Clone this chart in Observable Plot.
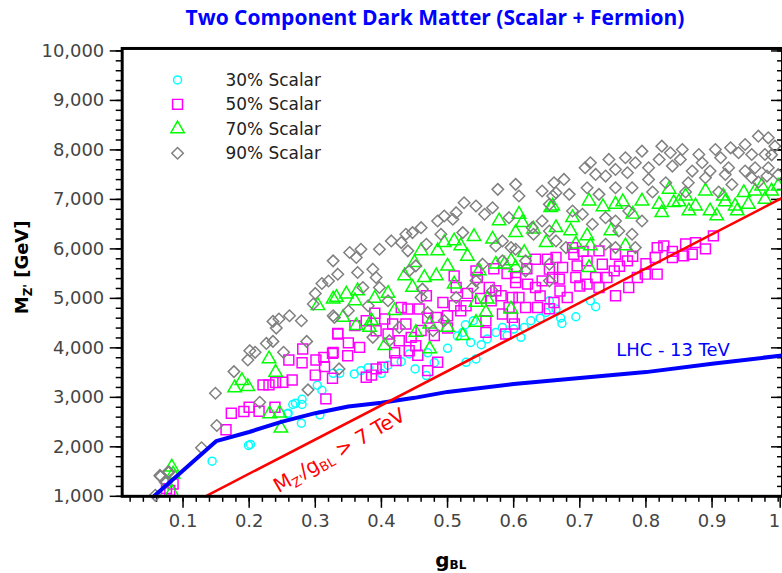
<!DOCTYPE html>
<html><head><meta charset="utf-8">
<script src="https://cdn.jsdelivr.net/npm/d3@7"></script>
<script src="https://cdn.jsdelivr.net/npm/@observablehq/plot@0.6"></script>
<style>
html,body{margin:0;padding:0;background:#fff;overflow:hidden;width:782px;height:573px;}
#title{height:36px;position:relative;font:bold 21px "Open Sans",sans-serif;color:#0000ff;}
#title span{position:absolute;left:435px;top:3px;transform:translateX(-50%);white-space:nowrap;}
#chart{width:782px;height:537px;overflow:hidden;}
</style></head><body>
<div id="title"><span>Two Component Dark Matter (Scalar + Fermion)</span></div>
<div id="chart"></div>
<script>
// ---- data: [g_BL, M_Z' (GeV)] ----
const scalar30 = [[0.144,1710],[0.199,2028],[0.202,2048],[0.258,2667],[0.259,2680],[0.270,2880],[0.266,2855],[0.280,2855],[0.279,2478],[0.280,2962],[0.303,3244],[0.307,2647],[0.310,3143],[0.327,3486],[0.337,3486],[0.359,3474],[0.369,3540],[0.38,3600],[0.40,3480],[0.41,3650],[0.442,3877],[0.451,3575],[0.468,3440],[0.48,3700],[0.523,4312],[0.527,4467],[0.528,3708],[0.535,4110],[0.539,4548],[0.543,3776],[0.551,4064],[0.56,4180],[0.573,4312],[0.583,4413],[0.59,4250],[0.611,4212],[0.616,4413],[0.626,4548],[0.64,4600],[0.649,4715],[0.654,4952],[0.664,4784],[0.671,4603],[0.673,4494],[0.694,4629],[0.716,4952],[0.724,4831],[0.50,3990],[0.47,3900],[0.43,3720],[0.515,4240],[0.60,4380]];
const scalar50 = [[0.075,1155],[0.080,1121],[0.085,1250],[0.165,2345],[0.173,2680],[0.192,2714],[0.239,2800],[0.221,3252],[0.230,3252],[0.251,3304],[0.260,3756],[0.281,3978],[0.301,3756],[0.313,3808],[0.314,3621],[0.326,3889],[0.326,3385],[0.316,2970],[0.334,4292],[0.334,4280],[0.327,3909],[0.349,3842],[0.367,4010],[0.377,4548],[0.392,4346],[0.405,4582],[0.417,4481],[0.430,4817],[0.440,4784],[0.437,4481],[0.445,4212],[0.452,4044],[0.422,3742],[0.427,4145],[0.392,3575],[0.377,3405],[0.385,3450],[0.470,3540],[0.485,3708],[0.457,4784],[0.468,5052],[0.483,4615],[0.493,4917],[0.510,5455],[0.513,5220],[0.510,4851],[0.520,4750],[0.528,4851],[0.543,5556],[0.545,5421],[0.563,5220],[0.573,5153],[0.581,5052],[0.566,4952],[0.558,4548],[0.558,4312],[0.583,4683],[0.593,4817],[0.598,5018],[0.603,5320],[0.621,5288],[0.633,5220],[0.643,5354],[0.654,5590],[0.633,5792],[0.651,5792],[0.664,5825],[0.603,5421],[0.608,5018],[0.618,4817],[0.636,4817],[0.598,4615],[0.601,4481],[0.588,4280],[0.402,3607],[0.442,3943],[0.654,4790],[0.661,4917],[0.681,5018],[0.669,5389],[0.659,5421],[0.674,5623],[0.691,5893],[0.696,5657],[0.711,5758],[0.711,5288],[0.729,5220],[0.724,5421],[0.741,5421],[0.752,5556],[0.734,5691],[0.754,5893],[0.772,5758],[0.787,5421],[0.799,5489],[0.817,5489],[0.817,6026],[0.827,6060],[0.814,5825],[0.840,5825],[0.857,5859],[0.870,5893],[0.875,6127],[0.902,6262],[0.729,5960],[0.694,5421],[0.754,5052],[0.774,5220],[0.689,6026],[0.705,5950],[0.36,4450],[0.35,4100],[0.39,4700],[0.41,4280],[0.46,4350],[0.47,4600],[0.50,4650],[0.53,5100],[0.55,5000],[0.57,5600],[0.59,5500],[0.62,5600],[0.64,5050],[0.67,5150],[0.70,5250],[0.76,5650],[0.78,5850],[0.80,5700],[0.84,5950],[0.86,6100],[0.89,6000],[0.50,4400],[0.48,4250],[0.455,3850],[0.42,3900],[0.30,3450],[0.28,3700],[0.265,3350],[0.24,3300],[0.20,2800],[0.215,2720]];
const scalar70 = [[0.083,1591],[0.083,1087],[0.085,1450],[0.178,3191],[0.189,3339],[0.198,3218],[0.230,3776],[0.240,3506],[0.231,2667],[0.246,2680],[0.248,2377],[0.304,4851],[0.332,5018],[0.347,5086],[0.364,5153],[0.342,4615],[0.362,4447],[0.385,4548],[0.405,4044],[0.420,4750],[0.452,4312],[0.473,4481],[0.473,3978],[0.500,4413],[0.523,4246],[0.543,4514],[0.558,4716],[0.543,4917],[0.560,4985],[0.596,4784],[0.510,5288],[0.548,5556],[0.483,5455],[0.465,5421],[0.447,5220],[0.435,5455],[0.450,5723],[0.460,5960],[0.485,5960],[0.495,6127],[0.510,6161],[0.520,6060],[0.568,6195],[0.578,6564],[0.608,6699],[0.613,6530],[0.603,6329],[0.573,5691],[0.586,5691],[0.596,5758],[0.603,5623],[0.616,5926],[0.649,6127],[0.656,6832],[0.327,4985],[0.382,4413],[0.659,6866],[0.689,6631],[0.714,6967],[0.686,6362],[0.711,6262],[0.716,6060],[0.714,5623],[0.754,6900],[0.747,6362],[0.769,6060],[0.820,6900],[0.835,7203],[0.842,6933],[0.860,7068],[0.875,6866],[0.890,7169],[0.897,6766],[0.907,6665],[0.917,7068],[0.935,6866],[0.948,7135],[0.965,7169],[0.975,7270],[0.990,7169],[1.0,7270],[0.938,6766],[0.955,6900],[0.865,6766],[0.824,6732],[0.794,6967],[0.664,6429],[0.694,6094],[0.765,6950],[0.735,6850],[0.78,6700],[0.85,6950],[0.92,6950],[0.98,7000],[0.63,6400],[0.53,5850],[0.41,5100],[0.39,5000],[0.36,4950],[0.50,5650],[0.54,6250]];
const scalar90 = [[0.058,1020],[0.065,1423],[0.066,1403],[0.077,1490],[0.079,1490],[0.073,1289],[0.075,1289],[0.128,1980],[0.151,2431],[0.149,3083],[0.177,3520],[0.198,3756],[0.209,3910],[0.201,3943],[0.226,4090],[0.236,4131],[0.252,3910],[0.241,4400],[0.236,4535],[0.245,4582],[0.261,4648],[0.279,4548],[0.216,2901],[0.289,3151],[0.287,4131],[0.297,4885],[0.327,4648],[0.336,3575],
[0.327,5758],[0.334,5489],[0.352,5926],[0.362,5825],[0.369,5993],[0.387,5590],[0.397,5993],[0.392,5421],[0.397,5220],[0.410,4952],[0.415,6161],[0.430,6127],[0.440,5960],[0.437,6296],[0.447,6329],[0.460,6429],[0.442,5556],[0.452,5657],[0.462,5187],[0.468,6094],[0.485,6564],[0.495,6665],[0.490,6296],[0.508,6598],[0.523,6329],[0.513,6732],[0.525,6933],[0.543,6866],[0.556,6699],[0.568,6832],[0.576,7203],[0.603,7304],[0.608,7068],[0.593,6631],[0.583,6161],[0.596,6026],[0.618,5758],[0.618,5556],[0.628,6429],[0.643,6564],[0.654,6900],[0.643,7169],[0.659,7068],[0.583,5758],[0.538,5220],[0.568,5153],[0.513,5018],[0.495,4548],[0.460,5018],[0.478,4346],[0.470,4716],[0.427,4413],[0.412,4145],[0.387,4212],[0.372,5220],[0.364,5522],[0.329,4615],[0.543,5354],[0.553,5691],[0.573,6060],[0.603,5993],[0.630,6296],
[0.661,7337],[0.676,7404],[0.664,7135],[0.684,7102],[0.708,7639],[0.716,7740],[0.724,7505],[0.744,7808],[0.739,7471],[0.754,7606],[0.769,7841],[0.784,7740],[0.772,7538],[0.794,7975],[0.804,7639],[0.824,8076],[0.837,7942],[0.855,8009],[0.852,7808],[0.880,7908],[0.885,7740],[0.905,8009],[0.913,7841],[0.928,8042],[0.940,7942],[0.950,8110],[0.960,7908],[0.970,8278],[0.985,8244],[0.995,8076],[0.980,7908],[0.965,7639],[0.985,7639],[0.925,7639],[0.950,7572],[0.897,7572],[0.870,7572],[0.840,7673],[0.820,7808],[0.804,7404],[0.779,7236],[0.754,7236],[0.729,7102],[0.711,7236],[0.689,6766],[0.704,6699],[0.719,6497],[0.739,6631],[0.754,6564],[0.759,6362],[0.779,6296],[0.794,6564],[0.774,6766],[0.739,6094],[0.754,6026],[0.654,6362],[0.664,6161],[0.679,6026],[0.654,5691],[0.654,5354],[0.864,7337],[0.890,7438],[0.920,7505],[0.960,7438],[0.983,7471],[0.830,7337],[0.784,6026],
[0.93,7300],[0.97,7350],[1.0,7500],[0.99,7900],[0.91,7150],[0.86,7150],[0.81,7150],[0.31,5300],[0.30,5100],[0.32,5350],[0.35,4750],[0.38,4850]];
const lhcLine = [[0.056,1000],[0.150,2115],[0.200,2300],[0.250,2510],[0.300,2680],[0.350,2815],[0.400,2890],[0.450,2990],[0.500,3110],[0.600,3270],[0.700,3390],[0.800,3510],[0.900,3680],[1.006,3845]];
const ratioLine = [[0.134,1000],[1.006,7030]];
const xMajor = [0.1,0.2,0.3,0.4,0.5,0.6,0.7,0.8,0.9];
const xLabels = ["0.1","0.2","0.3","0.4","0.5","0.6","0.7","0.8","0.9"];
const xLast = [1.0];
const xLastLabel = ["1"];
const yMajor = [1000,2000,3000,4000,5000,6000,7000,8000,9000,10000];
const series = [
  {name:"30% Scalar", data:scalar30, symbol:"circle", color:"#00ffff", r:4},
  {name:"50% Scalar", data:scalar50, symbol:"square", color:"#ff00ff", r:5.6},
  {name:"70% Scalar", data:scalar70, symbol:"triangle", color:"#00ff00", r:5},
  {name:"90% Scalar", data:scalar90, symbol:"diamond2", color:"#808080", r:5.2}
];
const lhcLabel = [{g:0.755, M:3960, text:"LHC - 13 TeV"}];

const xMinor = d3.range(0.02, 1.001, 0.02);
const yMinor = d3.range(1000, 10001, 200);

const plot = Plot.plot({
  width: 784, height: 537,
  marginLeft: 122, marginRight: 0, marginTop: 12, marginBottom: 76,
  style: {fontFamily: "DejaVu Sans", fontSize: "18px", color: "#444", background: "white"},
  x: {domain: [0.008, 1.0065]},
  y: {domain: [1000, 10050]},
  marks: [
    Plot.axisX(xMinor, {tickSize: 6, fill: "none", stroke: "black", strokeWidth: 1.5, label: null}),
    Plot.axisX(xMajor, {tickSize: 12, tickFormat: (d, i) => xLabels[i], tickPadding: 6, stroke: "black", strokeWidth: 1.5, fill: "#444", label: null}),
    Plot.axisX(xLast, {tickSize: 12, tickFormat: (d, i) => xLastLabel[i], tickPadding: 6, stroke: "black", strokeWidth: 1.5, fill: "#444", textAnchor: "end", dx: 2, label: null}),
    Plot.axisY(yMinor, {tickSize: 6, fill: "none", stroke: "black", strokeWidth: 1.5, label: null}),
    Plot.axisY(yMajor, {tickSize: 12, tickFormat: d3.format(","), tickPadding: 6, stroke: "black", strokeWidth: 1.5, fill: "#444", label: null}),
    Plot.axisY(yMinor, {anchor: "right", tickSize: -6, fill: "none", stroke: "black", strokeWidth: 1.5, label: null}),
    Plot.axisY(yMajor, {anchor: "right", tickSize: -12, fill: "none", stroke: "black", strokeWidth: 1.5, label: null}),
    ...series.map(s => Plot.dot(s.data, {x: d => d[0], y: d => d[1], symbol: s.symbol, r: s.r, stroke: s.color, strokeWidth: 1.5, fill: "none"})),
    Plot.line(lhcLine, {x: d => d[0], y: d => d[1], stroke: "#0000ff", strokeWidth: 4}),
    Plot.line(ratioLine, {x: d => d[0], y: d => d[1], stroke: "#ff0000", strokeWidth: 2.5}),
    Plot.text(lhcLabel, {x: "g", y: "M", text: "text", textAnchor: "start", fill: "#0000ff", fontSize: 18}),
    Plot.frame({stroke: "black", strokeWidth: 3})
  ]
});
document.getElementById("chart").append(plot);

const svg = d3.select(plot);
const sx = plot.scale("x"), sy = plot.scale("y");

// legend
const leg = svg.append("g").attr("text-anchor", "start");
series.forEach((s, i) => {
  const y = 44 + i * 24.5;
  const sym = {circle: d3.symbolCircle, square: d3.symbolSquare, triangle: d3.symbolTriangle, diamond2: d3.symbolDiamond2}[s.symbol];
  leg.append("path").attr("d", d3.symbol(sym, Math.PI * s.r * s.r)())
    .attr("transform", `translate(178,${y})`).attr("fill", "none").attr("stroke", s.color).attr("stroke-width", 1.5);
  leg.append("text").attr("x", 226).attr("y", y).attr("dy", "0.35em").attr("fill", "#222")
    .attr("text-anchor", "start").style("font", "17px 'DejaVu Sans'").text(s.name);
});

// y axis label
const yl = svg.append("text").attr("transform", "translate(28,232) rotate(-90)").attr("text-anchor", "middle")
  .attr("fill", "black").style("font", "bold 18px 'DejaVu Sans'");
yl.append("tspan").text("M");
yl.append("tspan").attr("dy", 4).style("font-size", "12px").text("Z'");
yl.append("tspan").attr("dy", -4).text(" [GeV]");

// x axis label
const xl = svg.append("text").attr("x", 452).attr("y", 532).attr("text-anchor", "middle")
  .attr("fill", "black").style("font", "bold 20px 'DejaVu Sans'");
xl.append("tspan").text("g");
xl.append("tspan").attr("dy", 2).style("font-size", "12px").text("BL");

// ratio label along red line
const rl = svg.append("text").attr("transform", `translate(${sx.apply(0.245)},${sy.apply(1050)}) rotate(-30)`)
  .attr("text-anchor", "start").attr("fill", "#ff0000").style("font", "20px 'DejaVu Sans'");
rl.append("tspan").text("M");
rl.append("tspan").attr("dy", 4).style("font-size", "13px").text("Z'");
rl.append("tspan").attr("dy", -4).text("/g");
rl.append("tspan").attr("dy", 4).style("font-size", "13px").text("BL");
rl.append("tspan").attr("dy", -4).text(" > 7 TeV");
</script>
</body></html>
